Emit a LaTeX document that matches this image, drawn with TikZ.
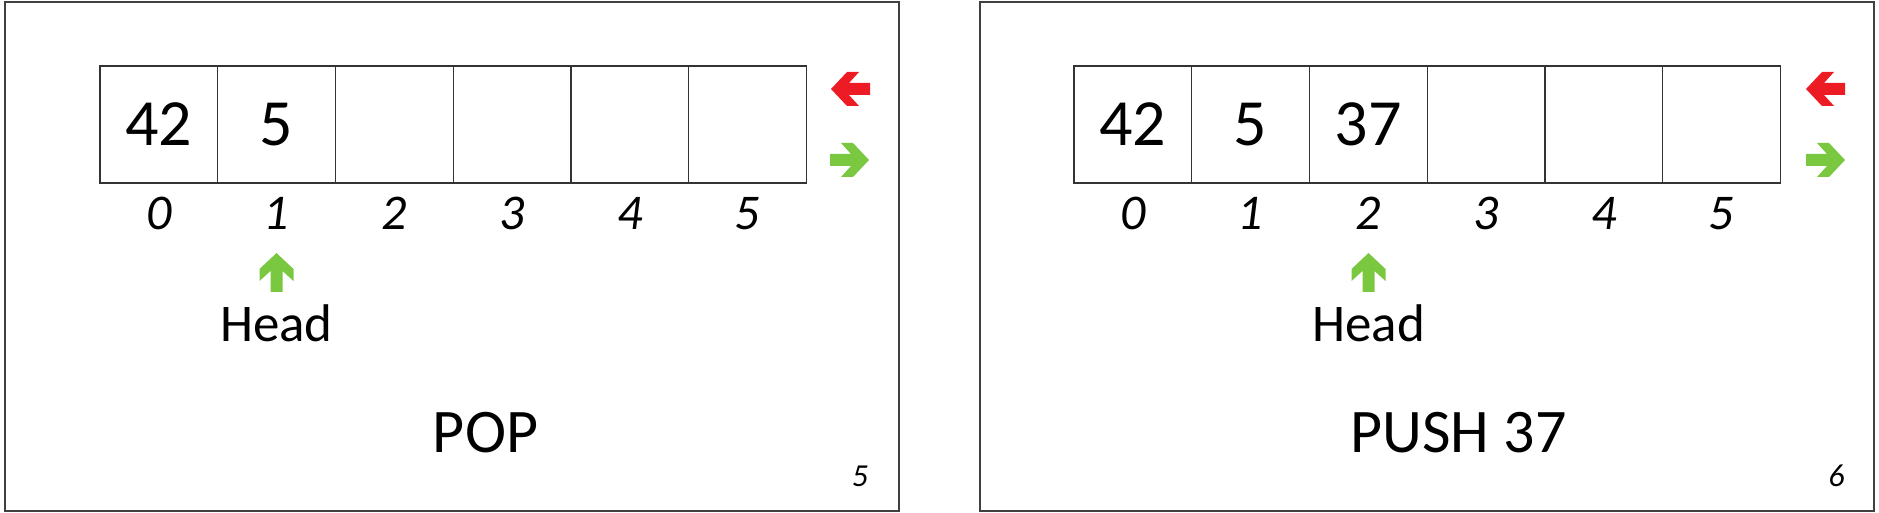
\documentclass[tikz,border=0pt]{standalone}
\usepackage{fontspec}
\setmainfont{Carlito}
\usepackage{color}
\definecolor{popred}{RGB}{237,28,36}
\definecolor{headgreen}{RGB}{122,199,64}

\begin{document}
\begin{tikzpicture}
        [x=0.5pt,y=-0.5pt]
            \tikzstyle{cell}=[draw=black!80, line width=0.6pt, inner sep=0pt,
        minimum width=58.875pt, minimum height=58.5pt, font=\fontsize{33}{33}\selectfont]
            \tikzstyle{idx}=[anchor=base, inner sep=0pt, font=\fontsize{25}{25}\selectfont\itshape]
            \tikzstyle{lbl}=[anchor=base, inner sep=0pt, font=\fontsize{26.5}{26.5}\selectfont]
            \tikzstyle{title}=[anchor=base, inner sep=0pt, font=\fontsize{31}{31}\selectfont]
            \tikzstyle{pnum}=[anchor=base, inner sep=0pt, font=\fontsize{16}{16}\selectfont\itshape]
            \tikzstyle{slide}=[draw=black!75, line width=1pt]
            \tikzset{blockarrow/.pic={\fill (0,0) -- (16,-17) -- (28,-17) -- (18,-6) -- (39,-6)
               -- (39,6) -- (18,6) -- (28,17) -- (16,17) -- cycle;}}
        \useasboundingbox (0,0) rectangle (1879,513);
        %-----POP
         \draw[slide] (5,2) rectangle (899,511);
         \foreach \i/\v in {0/42,1/5,2/{},3/{},4/{},5/{}}
         \node[cell] (pc\i) at ({158.875+117.75*\i},124.5) {\v};
         \foreach \i in {0,...,5}
         \node[idx] (pi\i) at ({158.875+117.75*\i},230) {\i};
         \pic[popred] at (831,89) {blockarrow};
         \pic[headgreen, rotate=180] at (869,160) {blockarrow};
         \pic[headgreen, rotate=-90] at (276.5,253) {blockarrow};
         \node[lbl] (phead) at (276.5,342) {Head};
         \node[title] (ptitle) at (485.5,452) {POP};
         \node[pnum] (pnum) at (860,486) {5};
        %-----PUSH
         \draw[slide] (980,2) rectangle (1874,511);
         \foreach \i/\v in {0/42,1/5,2/37,3/{},4/{},5/{}}
         \node[cell] (uc\i) at ({1132.875+117.75*\i},124.5) {\v};
         \foreach \i in {0,...,5}
         \node[idx] (ui\i) at ({1132.875+117.75*\i},230) {\i};
         \pic[popred] at (1806,89) {blockarrow};
         \pic[headgreen, rotate=180] at (1845,160) {blockarrow};
         \pic[headgreen, rotate=-90] at (1368.5,253) {blockarrow};
         \node[lbl] (uhead) at (1368.5,342) {Head};
         \node[title] (utitle) at (1458.5,452) {PUSH 37};
         \node[pnum] (unum) at (1836.5,486) {6};
        \end{tikzpicture}
\end{document}
